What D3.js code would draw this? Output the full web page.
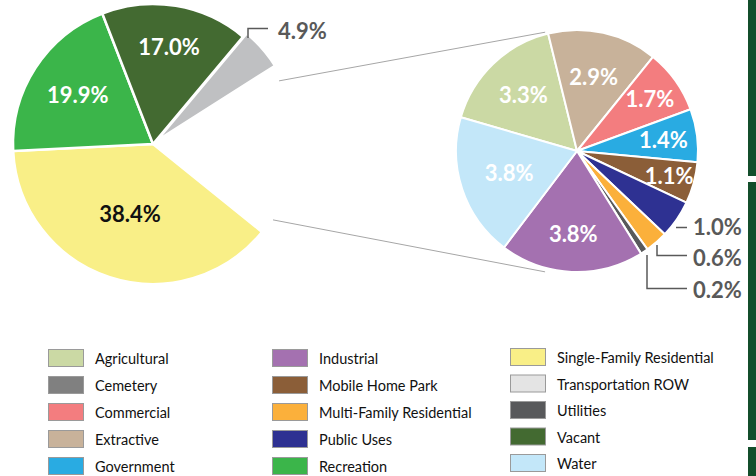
<!DOCTYPE html>
<html>
<head>
<meta charset="utf-8">
<script src="https://cdn.jsdelivr.net/npm/d3@7"></script>
<style>
  html, body { margin: 0; padding: 0; background: #ffffff; }
  svg { display: block; }
</style>
</head>
<body>
<svg id="chart" width="756" height="476"></svg>
<script>
// ---------- DATA ----------
const mainCategories = ["Single-Family Residential", "Recreation", "Vacant", "Transportation ROW", "Other"];
const mainValues = [38.4, 19.9, 17.0, 4.9, 19.8];

const subCategories = ["Agricultural", "Extractive", "Commercial", "Government", "Mobile Home Park",
  "Public Uses", "Multi-Family Residential", "Utilities", "Industrial", "Water"];
const subValues = [3.3, 2.9, 1.7, 1.4, 1.1, 1.0, 0.6, 0.2, 3.8, 3.8];

const legendCol1 = ["Agricultural", "Cemetery", "Commercial", "Extractive", "Government"];
const legendCol2 = ["Industrial", "Mobile Home Park", "Multi-Family Residential", "Public Uses", "Recreation"];
const legendCol3 = ["Single-Family Residential", "Transportation ROW", "Utilities", "Vacant", "Water"];

// ---------- STYLE ----------
const legendColors = {
  "Agricultural": "#cbd9a4", "Cemetery": "#808080", "Commercial": "#f37d7f", "Extractive": "#c8b29a",
  "Government": "#29abe2", "Industrial": "#a471b0", "Mobile Home Park": "#8b5e38",
  "Multi-Family Residential": "#fbb03b", "Public Uses": "#2e3192", "Recreation": "#3bb54a",
  "Single-Family Residential": "#f9ef87", "Transportation ROW": "#e4e4e4", "Utilities": "#58595b",
  "Vacant": "#436a31", "Water": "#c3e7f9"
};
const mainFill = {
  "Single-Family Residential": "#f9ef87", "Recreation": "#3bb54a", "Vacant": "#436a31",
  "Transportation ROW": "#bfc0c2", "Other": "none"
};
const mainLabelColor = { "Single-Family Residential": "#111111" };
const mainLabelRadius = [0.53, 0.64, 0.70, 0, 0];
const subLabelRadius = [0.64, 0.63, 0.74, 0.72, 0.79, 0, 0, 0, 0.69, 0.59];
const FONT = "Lato, 'Open Sans', sans-serif";
const LBL_SIZE = 22;
const deg = Math.PI / 180;

const svg = d3.select("#chart");

// ---------- RIGHT EDGE BAR ----------
[[0, 176], [182, 440], [447, 476]].forEach(([a, b]) => {
  svg.append("rect").attr("x", 748).attr("y", a).attr("width", 8).attr("height", b - a).attr("fill", "#134e2b");
});

// ---------- MAIN PIE ----------
const mainR = 140, mc = [153, 144];
const mainPie = d3.pie().sort(null).value(d => d.v)
  .startAngle(128.9 * deg).endAngle(128.9 * deg + 2 * Math.PI);
const mainData = mainPie(mainCategories.map((c, i) => ({ c, v: mainValues[i], i })));
const mainArc = d3.arc().innerRadius(0).outerRadius(mainR);
const gMain = svg.append("g").attr("transform", `translate(${mc[0]},${mc[1]})`);

gMain.selectAll("path").data(mainData.filter(d => d.data.c !== "Other")).join("path")
  .attr("d", mainArc)
  .attr("fill", d => mainFill[d.data.c])
  .attr("stroke", "#ffffff").attr("stroke-width", 2.5).attr("stroke-linejoin", "round")
  .attr("transform", d => {
    if (d.data.c !== "Transportation ROW") return null;
    const a = (d.startAngle + d.endAngle) / 2, off = 5;
    return `translate(${off * Math.sin(a)},${-off * Math.cos(a)})`;
  });

gMain.selectAll("text.lbl").data(mainData.filter(d => mainLabelRadius[d.data.i] > 0)).join("text")
  .attr("class", "lbl")
  .attr("x", d => { const a = (d.startAngle + d.endAngle) / 2; return mainR * mainLabelRadius[d.data.i] * Math.sin(a); })
  .attr("y", d => { const a = (d.startAngle + d.endAngle) / 2; return -mainR * mainLabelRadius[d.data.i] * Math.cos(a); })
  .attr("dy", "0.36em")
  .attr("text-anchor", "middle")
  .attr("font-family", FONT).attr("font-weight", "bold").attr("font-size", LBL_SIZE)
  .attr("fill", d => mainLabelColor[d.data.c] || "#ffffff")
  .text(d => d.data.v.toFixed(1) + "%");

// 4.9% external label
const tr = mainData[3];
svg.append("path").attr("d", "M248,38 V28.5 H268").attr("fill", "none").attr("stroke", "#595959").attr("stroke-width", 1.5);
svg.append("text").attr("x", 278).attr("y", 31).attr("dy", "0.36em")
  .attr("font-family", FONT).attr("font-weight", "bold").attr("font-size", LBL_SIZE).attr("fill", "#595959")
  .text(tr.data.v.toFixed(1) + "%");

// ---------- SECOND PIE ----------
const subR = 121, sc = [577, 151];
const subPie = d3.pie().sort(null).value(d => d.v)
  .startAngle(286.2 * deg).endAngle(286.2 * deg + 2 * Math.PI);
const subData = subPie(subCategories.map((c, i) => ({ c, v: subValues[i], i })));
const subArc = d3.arc().innerRadius(0).outerRadius(subR);

// connector lines
const pt = (c, r, aDeg) => [c[0] + r * Math.sin(aDeg * deg), c[1] - r * Math.cos(aDeg * deg)];
const l1a = pt(mc, 141, 63.4), l1b = pt(sc, 123, -15);
const l2a = pt(mc, 142, 122.3), l2b = pt(sc, 125, 194.8);
svg.append("line").attr("x1", l1a[0]).attr("y1", l1a[1]).attr("x2", l1b[0]).attr("y2", l1b[1])
  .attr("stroke", "#a6a6a6").attr("stroke-width", 1);
svg.append("line").attr("x1", l2a[0]).attr("y1", l2a[1]).attr("x2", l2b[0]).attr("y2", l2b[1])
  .attr("stroke", "#a6a6a6").attr("stroke-width", 1);

const gSub = svg.append("g").attr("transform", `translate(${sc[0]},${sc[1]})`);
gSub.selectAll("path").data(subData).join("path")
  .attr("d", subArc)
  .attr("fill", d => legendColors[d.data.c])
  .attr("stroke", "#ffffff").attr("stroke-width", 2).attr("stroke-linejoin", "round");

gSub.selectAll("text.lbl").data(subData.filter(d => subLabelRadius[d.data.i] > 0)).join("text")
  .attr("class", "lbl")
  .attr("x", d => { const a = (d.startAngle + d.endAngle) / 2; return subR * subLabelRadius[d.data.i] * Math.sin(a); })
  .attr("y", d => { const a = (d.startAngle + d.endAngle) / 2; return -subR * subLabelRadius[d.data.i] * Math.cos(a); })
  .attr("dy", "0.36em")
  .attr("text-anchor", "middle")
  .attr("font-family", FONT).attr("font-weight", "bold").attr("font-size", LBL_SIZE)
  .attr("fill", "#ffffff")
  .text(d => d.data.v.toFixed(1) + "%");

// external labels for small slices
const ext = [
  { i: 5, path: "M676,227.5 H687", y: 227 },
  { i: 6, path: "M657,245 V255.5 H687", y: 258 },
  { i: 7, path: "M647,255 V288.5 H687", y: 290 }
];
ext.forEach(e => {
  svg.append("path").attr("d", e.path).attr("fill", "none").attr("stroke", "#595959").attr("stroke-width", 1.5);
  svg.append("text").attr("x", 693).attr("y", e.y).attr("dy", "0.36em")
    .attr("font-family", FONT).attr("font-weight", "bold").attr("font-size", LBL_SIZE).attr("fill", "#595959")
    .text(subValues[e.i].toFixed(1) + "%");
});

// ---------- LEGEND ----------
const cols = [
  { items: legendCol1, sx: 48, tx: 95, y0: 349, step: 27 },
  { items: legendCol2, sx: 272, tx: 319, y0: 349, step: 27 },
  { items: legendCol3, sx: 510, tx: 557, y0: 348, step: 26.5 }
];
cols.forEach(col => {
  col.items.forEach((name, k) => {
    const y = col.y0 + k * col.step;
    svg.append("rect").attr("x", col.sx + 0.5).attr("y", y + 0.5).attr("width", 35).attr("height", 17)
      .attr("fill", legendColors[name]).attr("stroke", "#9a9a9a").attr("stroke-width", 1);
    svg.append("text").attr("x", col.tx).attr("y", y + 10).attr("dy", "0.36em")
      .attr("font-family", FONT).attr("font-size", 14.5).attr("fill", "#111111")
      .text(name);
  });
});
</script>
</body>
</html>
